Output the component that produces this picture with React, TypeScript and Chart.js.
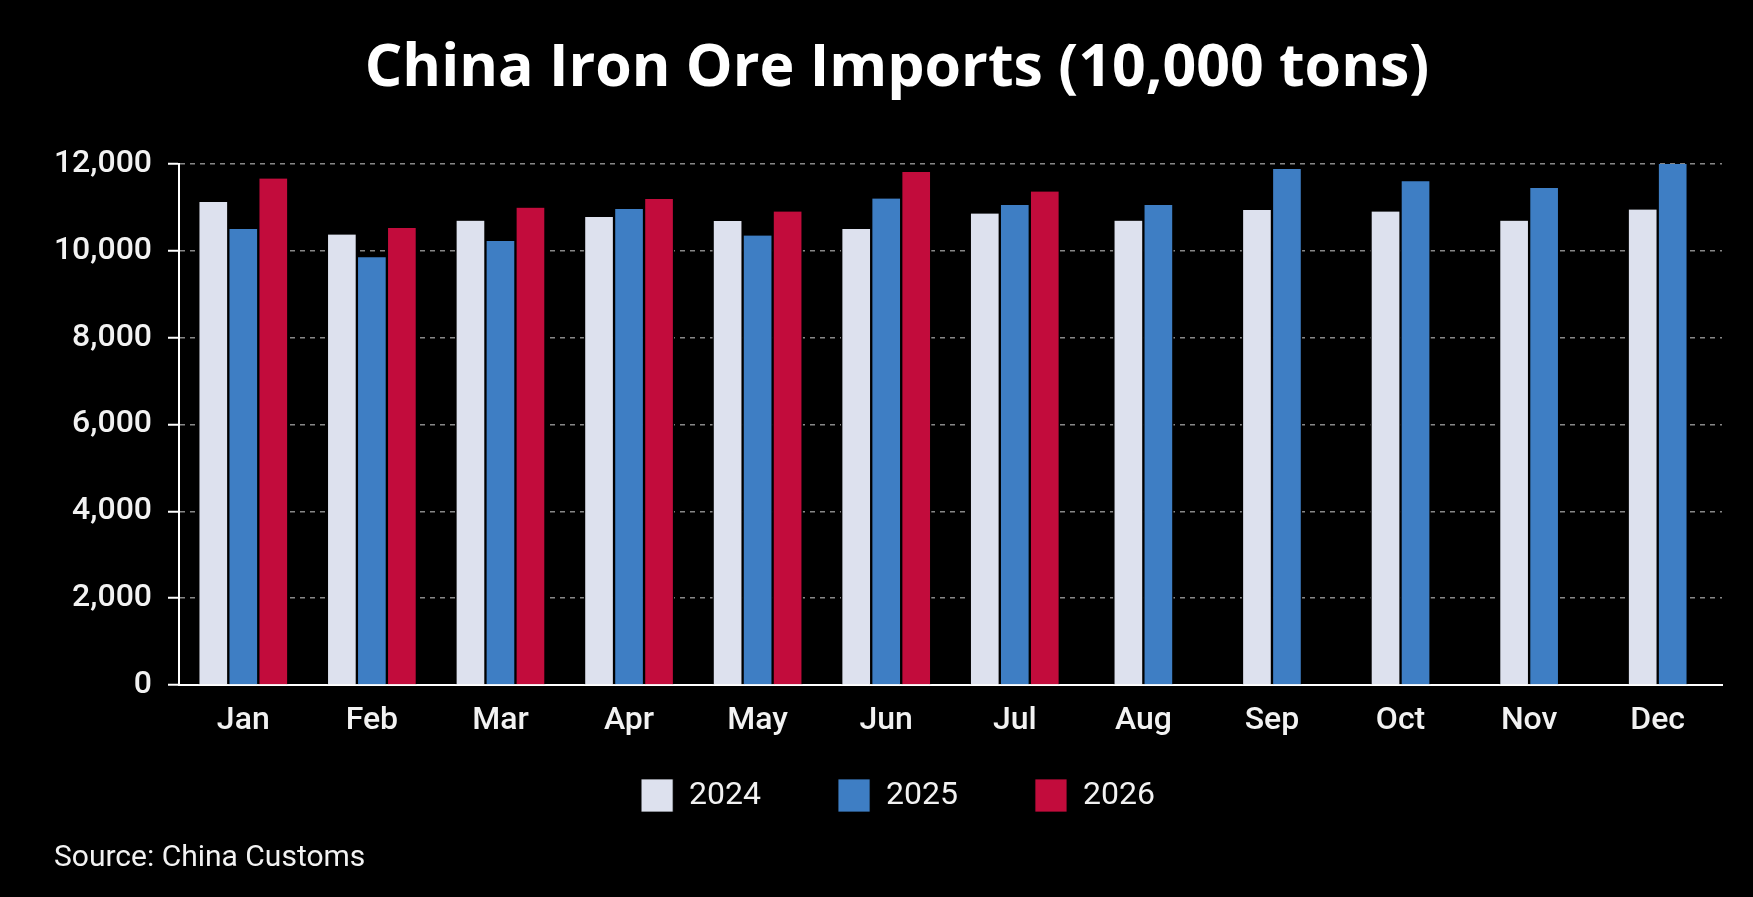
import React, { useEffect, useRef } from 'react';
import Chart from 'chart.js/auto';

// Monthly imports, unit: 10,000 tons
const months = ['Jan', 'Feb', 'Mar', 'Apr', 'May', 'Jun', 'Jul', 'Aug', 'Sep', 'Oct', 'Nov', 'Dec'];
const imports2024 = [11120, 10370, 10690, 10775, 10685, 10500, 10855, 10690, 10935, 10900, 10690, 10945];
const imports2025 = [10500, 9850, 10220, 10960, 10350, 11200, 11050, 11050, 11880, 11600, 11440, 12000];
const imports2026 = [11660, 10520, 10990, 11190, 10900, 11810, 11360, null, null, null, null, null];
const yTicks = [0, 2000, 4000, 6000, 8000, 10000, 12000];
const sourceText = 'Source: China Customs';

// The legend needs wide spacing between items (labels.padding), which also
// pads it vertically, so pull the legend and the source line back up.
const boxNudge = {
  id: 'boxNudge',
  afterLayout(chart: any) {
    const legend = chart.legend;
    if (legend) {
      legend.top -= 39;
      legend.bottom -= 39;
      legend.left += 10;
      legend.right += 10;
    }
    const source = chart.boxes.find((b: any) => b.options && b.options.text === sourceText);
    if (source) {
      source.top -= 21;
      source.bottom -= 21;
    }
    if (chart.titleBlock) {
      chart.titleBlock.left += 9;
      chart.titleBlock.right += 9;
    }
  },
};

const ChinaIronOreChart: React.FC = () => {
  const chartRef = useRef<HTMLCanvasElement>(null);
  const chartInstance = useRef<Chart | null>(null);

  useEffect(() => {
    if (!chartRef.current) return;
    if (chartInstance.current) {
      chartInstance.current.destroy();
    }
    const ctx = chartRef.current.getContext('2d');
    if (!ctx) return;

    Chart.defaults.font.family = 'Roboto, "DejaVu Sans", sans-serif';
    Chart.defaults.color = '#f2f2f2';

    // fixed thickness so Aug-Dec pairs keep the same width; black side borders make the gaps
    const barStyle = {
      barThickness: 30,
      borderWidth: { left: 1.5, right: 1.5, top: 0, bottom: 0 },
      borderColor: '#000000',
      skipNull: true,
    };

    chartInstance.current = new Chart(ctx, {
      type: 'bar',
      data: {
        labels: months,
        datasets: [
          { label: '2024', data: imports2024, backgroundColor: '#dde1ee', ...barStyle },
          { label: '2025', data: imports2025, backgroundColor: '#3e7ec4', ...barStyle },
          { label: '2026', data: imports2026, backgroundColor: '#c20c3c', ...barStyle },
        ],
      },
      plugins: [boxNudge],
      options: {
        responsive: true,
        maintainAspectRatio: false,
        animation: false,
        layout: {
          padding: { left: 54, right: 31, top: 0, bottom: 0 },
        },
        plugins: {
          title: {
            display: true,
            text: 'China Iron Ore Imports (10,000 tons)',
            color: '#ffffff',
            font: { family: '"Open Sans", Roboto, sans-serif', size: 59, weight: 'bold' },
            padding: { top: 34, bottom: 59 },
          },
          legend: {
            position: 'bottom',
            labels: {
              boxWidth: 32,
              boxHeight: 33,
              padding: 77,
              color: '#f2f2f2',
              font: { size: 32 },
            },
          },
          subtitle: {
            display: true,
            position: 'bottom',
            align: 'start',
            text: sourceText,
            color: '#f2f2f2',
            font: { size: 30 },
            padding: 0,
          },
          tooltip: { enabled: false },
        },
        scales: {
          x: {
            afterFit: (scale: any) => {
              scale.height = 56;
            },
            grid: { display: false, drawTicks: false },
            border: { display: true, color: '#ffffff', width: 2 },
            ticks: {
              color: '#f2f2f2',
              padding: 17,
              font: { size: 32, weight: '500' },
            },
          },
          y: {
            min: 0,
            max: 12000,
            afterBuildTicks: (scale: any) => {
              scale.ticks = yTicks.map((v) => ({ value: v }));
            },
            afterFit: (scale: any) => {
              scale.width = 125;
            },
            grid: {
              color: (c: any) => (c.tick && c.tick.value === 0 ? 'rgba(0,0,0,0)' : 'rgba(150,150,150,0.9)'),
              lineWidth: 1.5,
              drawTicks: true,
              tickLength: 11,
              tickColor: '#ffffff',
              tickWidth: 2,
              tickBorderDash: [],
            },
            border: { display: true, color: '#ffffff', width: 2, dash: [5, 5] },
            ticks: {
              color: '#f2f2f2',
              padding: 16,
              font: { size: 32, weight: '500' },
              callback: (value: any) => Number(value).toLocaleString('en-US'),
            },
          },
        },
      },
    });

    return () => {
      if (chartInstance.current) {
        chartInstance.current.destroy();
        chartInstance.current = null;
      }
    };
  }, []);

  return (
    <div style={{ position: 'fixed', left: 0, top: 0, width: 1753, height: 897, background: '#000' }}>
      <canvas ref={chartRef}></canvas>
    </div>
  );
};

export default function App() {
  return <ChinaIronOreChart />;
}
